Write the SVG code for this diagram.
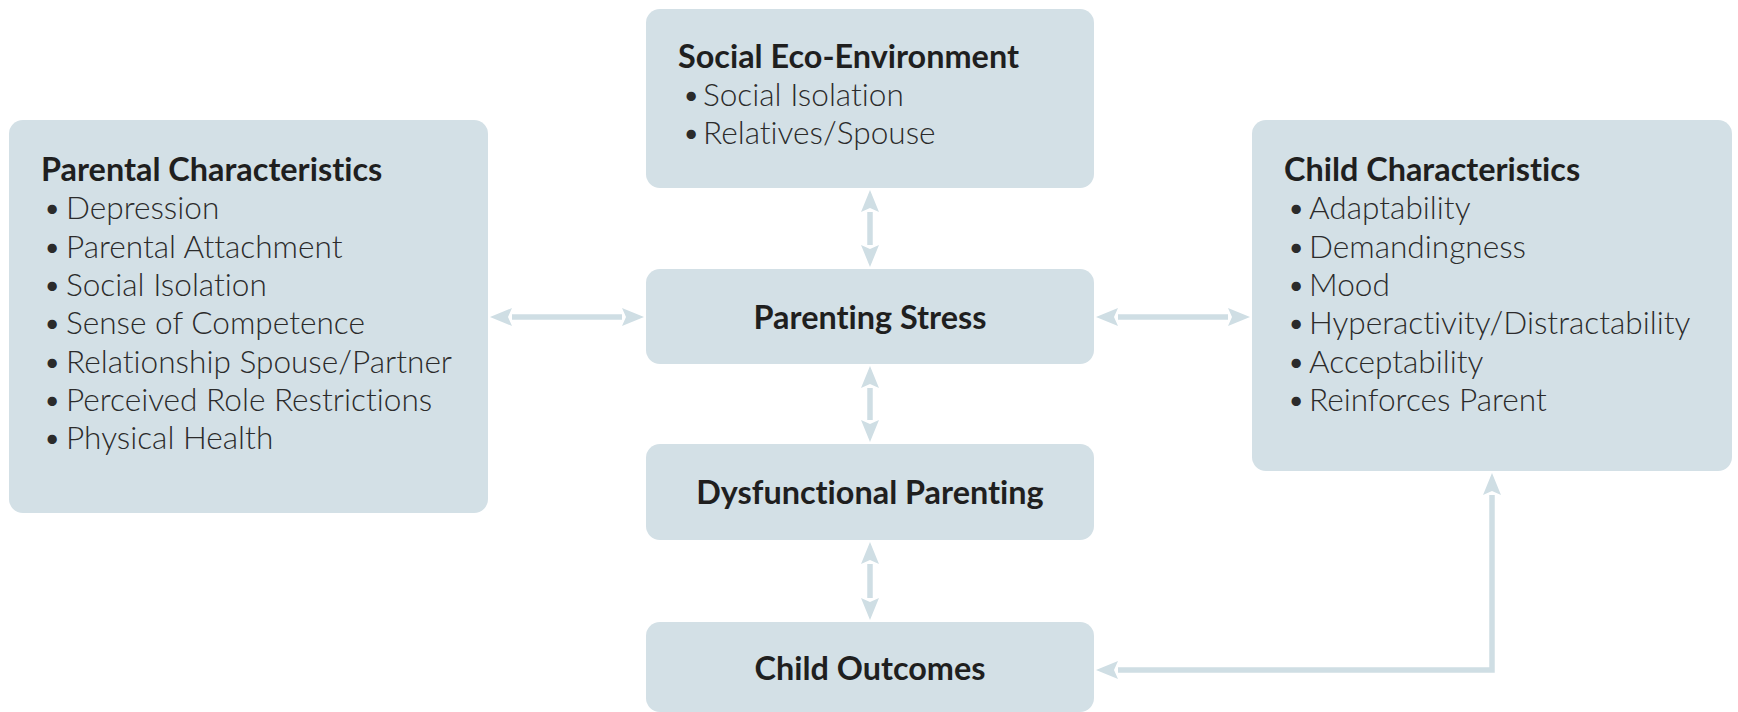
<svg xmlns="http://www.w3.org/2000/svg" width="1738" height="712" viewBox="0 0 1738 712">
<style>
.box{fill:#d3e0e6;}
.t{font-family:Lato,"Open Sans","Liberation Sans",sans-serif;font-size:32.4px;fill:#1f1f1f;font-weight:700;font-variant-ligatures:none;}
.i{font-family:Lato,"Open Sans","Liberation Sans",sans-serif;font-size:31.6px;fill:#2b2b2b;font-weight:300;font-variant-ligatures:none;}
.c{text-anchor:middle;}
.conn{fill:none;stroke:#cfdee4;stroke-width:5.5;}
</style>
<defs>
<marker id="ah" markerUnits="userSpaceOnUse" markerWidth="24" markerHeight="20" refX="0" refY="9" orient="auto-start-reverse" viewBox="0 0 24 18">
<path d="M0,0 L22,9 L0,18 L4,9 z" fill="#cfdee4"/>
</marker>
</defs>
<rect width="1738" height="712" fill="#ffffff"/>
<g id="connectors">
<line class="conn" x1="870" y1="212" x2="870" y2="245" marker-start="url(#ah)" marker-end="url(#ah)"/>
<line class="conn" x1="512" y1="317" x2="622" y2="317" marker-start="url(#ah)" marker-end="url(#ah)"/>
<line class="conn" x1="1118" y1="317" x2="1228" y2="317" marker-start="url(#ah)" marker-end="url(#ah)"/>
<line class="conn" x1="870" y1="388" x2="870" y2="420" marker-start="url(#ah)" marker-end="url(#ah)"/>
<line class="conn" x1="870" y1="564" x2="870" y2="598" marker-start="url(#ah)" marker-end="url(#ah)"/>
<path class="conn" d="M1118,670 H1492 V495" marker-start="url(#ah)" marker-end="url(#ah)"/>
</g>
<g id="social-eco">
<rect class="box" x="646" y="9" width="448" height="179" rx="14"/>
<text class="t" x="678" y="68">Social Eco-Environment</text>
<text class="i" x="682" y="106">•<tspan x="703">Social Isolation</tspan></text>
<text class="i" x="682" y="144">•<tspan x="703">Relatives/Spouse</tspan></text>
</g>
<g id="parental">
<rect class="box" x="9" y="120" width="479" height="393" rx="14"/>
<text class="t" x="41" y="181">Parental Characteristics</text>
<text class="i" x="43" y="219">•<tspan x="66">Depression</tspan></text>
<text class="i" x="43" y="258">•<tspan x="66">Parental Attachment</tspan></text>
<text class="i" x="43" y="296">•<tspan x="66">Social Isolation</tspan></text>
<text class="i" x="43" y="334">•<tspan x="66">Sense of Competence</tspan></text>
<text class="i" x="43" y="373">•<tspan x="66">Relationship Spouse/Partner</tspan></text>
<text class="i" x="43" y="411">•<tspan x="66">Perceived Role Restrictions</tspan></text>
<text class="i" x="43" y="449">•<tspan x="66">Physical Health</tspan></text>
</g>
<g id="child-characteristics">
<rect class="box" x="1252" y="120" width="480" height="351" rx="14"/>
<text class="t" x="1284" y="181">Child Characteristics</text>
<text class="i" x="1287" y="219">•<tspan x="1309">Adaptability</tspan></text>
<text class="i" x="1287" y="258">•<tspan x="1309">Demandingness</tspan></text>
<text class="i" x="1287" y="296">•<tspan x="1309">Mood</tspan></text>
<text class="i" x="1287" y="334">•<tspan x="1309">Hyperactivity/Distractability</tspan></text>
<text class="i" x="1287" y="373">•<tspan x="1309">Acceptability</tspan></text>
<text class="i" x="1287" y="411">•<tspan x="1309">Reinforces Parent</tspan></text>
</g>
<g id="parenting-stress">
<rect class="box" x="646" y="269" width="448" height="95" rx="14"/>
<text class="t c" x="870" y="329">Parenting Stress</text>
</g>
<g id="dysfunctional-parenting">
<rect class="box" x="646" y="444" width="448" height="96" rx="14"/>
<text class="t c" x="870" y="504">Dysfunctional Parenting</text>
</g>
<g id="child-outcomes">
<rect class="box" x="646" y="622" width="448" height="90" rx="14"/>
<text class="t c" x="870" y="680">Child Outcomes</text>
</g>
</svg>
